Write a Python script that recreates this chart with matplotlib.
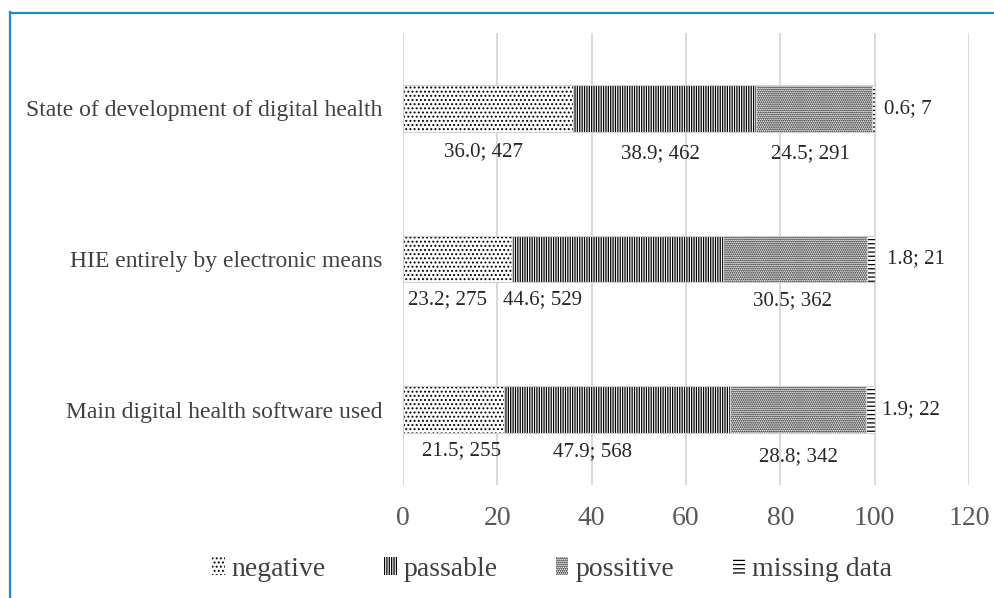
import matplotlib
matplotlib.use("Agg")
import matplotlib.pyplot as plt
from matplotlib.patches import Patch
from matplotlib.lines import Line2D

# Survey ratings: percentage share and respondent count per rating
categories = ["State of development of digital health",
              "HIE entirely by electronic means",
              "Main digital health software used"]
series_names = ["negative", "passable", "possitive", "missing data"]
percent = {
    "negative":     [36.0, 23.2, 21.5],
    "passable":     [38.9, 44.6, 47.9],
    "possitive":    [24.5, 30.5, 28.8],
    "missing data": [0.6, 1.8, 1.9],
}
counts = {
    "negative":     [427, 275, 255],
    "passable":     [462, 529, 568],
    "possitive":    [291, 362, 342],
    "missing data": [7, 21, 22],
}
x_ticks = [0, 20, 40, 60, 80, 100, 120]

# Where each value label sits along the bar (data units)
label_x = {
    "negative":     [17.1, 9.5, 12.4],
    "passable":     [54.5, 29.6, 40.2],
    "possitive":    [86.3, 82.5, 83.9],
    "missing data": [102.0, 102.6, 101.5],
}
# Drop of the value labels below the bar centre (category units)
label_drop = {
    "negative":     [0.29, 0.27, 0.27],
    "passable":     [0.30, 0.27, 0.28],
    "possitive":    [0.30, 0.28, 0.31],
}

hatches = {"negative": "....", "passable": "|||||||",
           "possitive": "........", "missing data": "----"}

plt.rcParams["font.family"] = ["Liberation Serif", "DejaVu Serif"]
plt.rcParams["hatch.linewidth"] = 0.9

W, H = 994, 598
fig = plt.figure(figsize=(W / 100, H / 100), dpi=100)
ax = fig.add_axes([403 / W, 1 - 485 / H, (969 - 403) / W, (485 - 33) / H])

ypos = [2, 1, 0]
bar_h = 0.31
left = [0.0, 0.0, 0.0]
for name in series_names:
    vals = percent[name]
    ax.barh(ypos, vals, left=left, height=bar_h, color="white",
            edgecolor="black", linewidth=0, hatch=hatches[name], zorder=3)
    ax.barh(ypos, vals, left=left, height=bar_h, color="none",
            edgecolor="#d0d0d0", linewidth=0.8, zorder=4)
    for i, y in enumerate(ypos):
        txt = f"{vals[i]:.1f}; {counts[name][i]}"
        if name == "missing data":
            ax.text(label_x[name][i], y, txt, ha="left", va="center",
                    fontsize=15, color="#262626", zorder=5)
        else:
            ax.text(label_x[name][i], y - label_drop[name][i], txt,
                    ha="center", va="center", fontsize=15,
                    color="#262626", zorder=5)
    left = [l + v for l, v in zip(left, vals)]

ax.set_xlim(0, 120)
ax.set_ylim(-0.5, 2.5)
ax.set_xticks(x_ticks)
ax.set_xticklabels([str(t) for t in x_ticks])
ax.set_yticks(ypos)
ax.set_yticklabels(categories)
ax.tick_params(axis="x", length=0, pad=15, labelsize=20, labelcolor="#595959")
ax.tick_params(axis="y", length=0, pad=15, labelsize=17, labelcolor="#404040")
ax.grid(axis="x", color="#d9d9d9", linewidth=1.4, zorder=0)
ax.set_axisbelow(True)
for s in ax.spines.values():
    s.set_visible(False)

handles = [Patch(facecolor="white", edgecolor="black", linewidth=0,
                 hatch=hatches[n], label=n) for n in series_names]
fig.legend(handles=handles, loc="center", bbox_to_anchor=(552 / W, 1 - 569 / H),
           ncol=4, frameon=False, fontsize=20, labelcolor="#404040",
           handlelength=0.45, handleheight=0.6, handletextpad=0.25,
           columnspacing=2.1)

# Blue frame along the top and left edges
frame_color = "#1b8bc7"
fig.add_artist(Line2D([10 / W, 1.0], [1 - 13 / H, 1 - 13 / H],
                      transform=fig.transFigure, color=frame_color, linewidth=1.6))
fig.add_artist(Line2D([10 / W, 10 / W], [0.0, 1 - 12 / H],
                      transform=fig.transFigure, color=frame_color, linewidth=1.6))

fig.savefig("out.png", dpi=100, facecolor="white")
